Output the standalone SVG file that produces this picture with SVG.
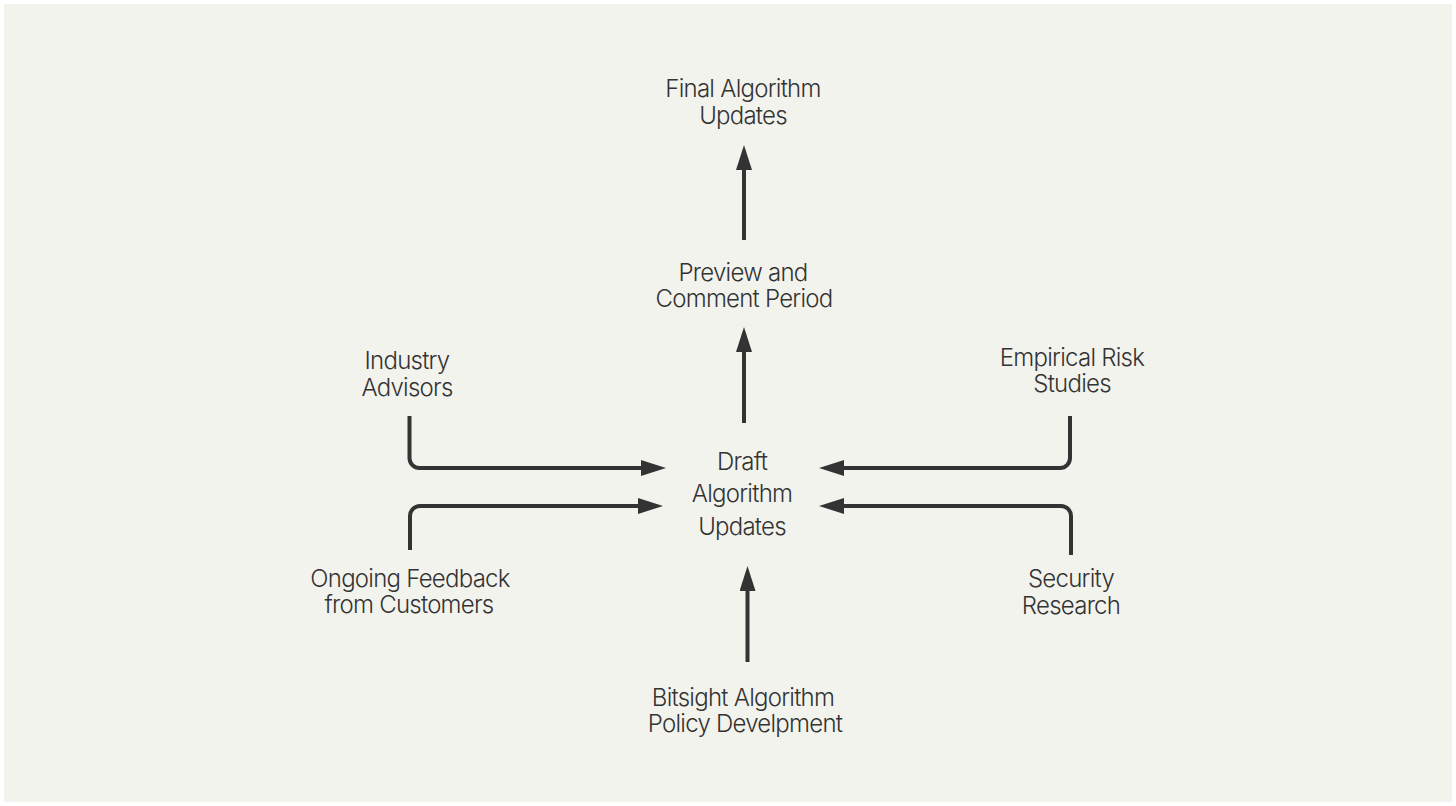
<svg xmlns="http://www.w3.org/2000/svg" width="1456" height="806" viewBox="0 0 1456 806">
<defs>
<style>
.lbl{font-family:Inter,"Liberation Sans",sans-serif;font-size:24px;font-weight:300;fill:#333333;text-anchor:middle;letter-spacing:-0.75px}
.conn{fill:none;stroke:#333333;stroke-width:4;stroke-linejoin:round}
</style>
<marker id="ah" markerUnits="userSpaceOnUse" markerWidth="26" markerHeight="18" refX="0" refY="8" orient="auto">
<path d="M0,0 L25,8 L0,16 Z" fill="#333333"/>
</marker>
</defs>
<rect x="0" y="0" width="1456" height="806" fill="#ffffff"/>
<rect x="4" y="4" width="1448" height="798" fill="#f3f3ee"/>
<g id="connectors">
<path class="conn" d="M409.5,416 V458 A10,10 0 0 0 419.5,468 H641" marker-end="url(#ah)"/>
<path class="conn" d="M410,550 V516 A10,10 0 0 1 420,506 H638" marker-end="url(#ah)"/>
<path class="conn" d="M1070,416 V458 A10,10 0 0 1 1060,468 H844" marker-end="url(#ah)"/>
<path class="conn" d="M1071,555 V516 A10,10 0 0 0 1061,506 H844" marker-end="url(#ah)"/>
<path class="conn" d="M744,423 V352" marker-end="url(#ah)"/>
<path class="conn" d="M744,240 V170" marker-end="url(#ah)"/>
<path class="conn" d="M747.5,662 V591" marker-end="url(#ah)"/>
</g>
<g id="final"><text class="lbl" x="743" y="97">Final Algorithm</text><text class="lbl" x="743" y="124">Updates</text></g>
<g id="preview"><text class="lbl" x="743" y="281">Preview and</text><text class="lbl" x="744" y="307">Comment Period</text></g>
<g id="draft"><text class="lbl" x="742" y="470">Draft</text><text class="lbl" x="742" y="502">Algorithm</text><text class="lbl" x="742" y="535">Updates</text></g>
<g id="industry"><text class="lbl" x="407" y="369">Industry</text><text class="lbl" x="407" y="396">Advisors</text></g>
<g id="feedback"><text class="lbl" x="410" y="587">Ongoing Feedback</text><text class="lbl" x="409" y="613">from Customers</text></g>
<g id="empirical"><text class="lbl" x="1072" y="366">Empirical Risk</text><text class="lbl" x="1072" y="392">Studies</text></g>
<g id="security"><text class="lbl" x="1071" y="587">Security</text><text class="lbl" x="1071" y="614">Research</text></g>
<g id="bitsight"><text class="lbl" x="743" y="706">Bitsight Algorithm</text><text class="lbl" x="745" y="732">Policy Develpment</text></g>
</svg>
